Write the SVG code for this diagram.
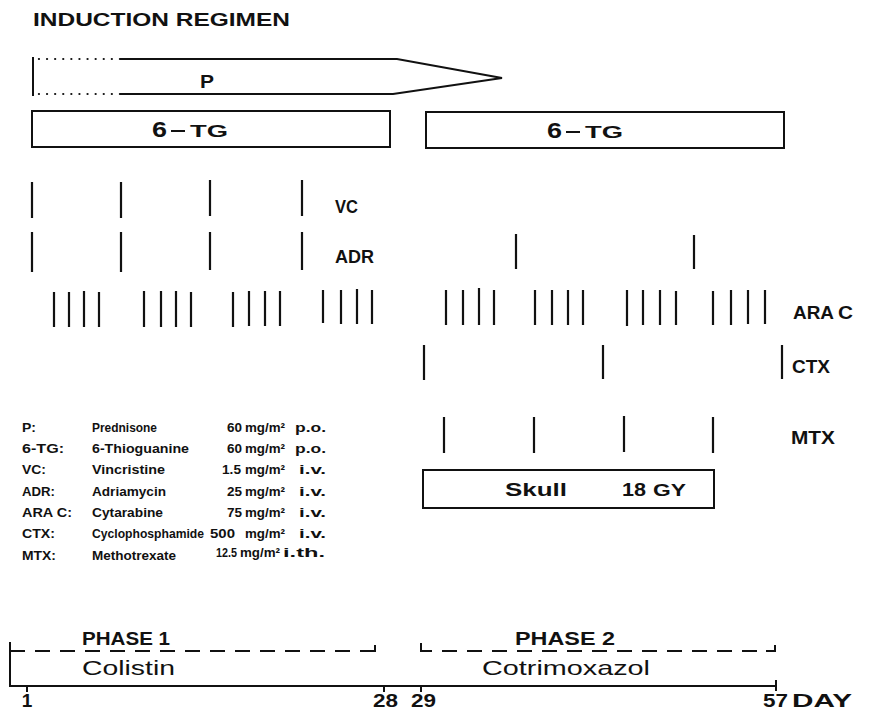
<svg xmlns="http://www.w3.org/2000/svg" width="885" height="711" viewBox="0 0 885 711">
<style>
text{font-family:"Liberation Sans",Arial,sans-serif;fill:#111}
.b{font-weight:bold}
.t{stroke:#111;stroke-width:2.2;fill:none}
.box{stroke:#111;stroke-width:2;fill:#fff}
.ln{stroke:#111;stroke-width:2;fill:none}
.dot{stroke:#111;stroke-width:2.2;fill:none;stroke-dasharray:0.1 8;stroke-linecap:round}
.dash{stroke:#111;stroke-width:2;fill:none;stroke-dasharray:15 10}
.lg{font-size:12.5px;font-weight:bold}
.rl{font-size:18px;font-weight:bold}
.num{font-size:19px;font-weight:bold}
</style>
<rect width="885" height="711" fill="#fff"/>
<text id="title" x="33" y="26" class="b" font-size="18" textLength="257" lengthAdjust="spacingAndGlyphs">INDUCTION REGIMEN</text>

<g id="node-P">
<path class="dot" d="M120 59 H36 M120 94 H36"/>
<path class="ln" d="M33 57 V96"/>
<path class="ln" d="M120 59 H397 L502 78 L393 94 H120"/>
<text x="200" y="88" class="b" font-size="18" textLength="14" lengthAdjust="spacingAndGlyphs">P</text>
</g>

<g id="node-6TG-1">
<rect class="box" x="32" y="111" width="358" height="36"/>
<text x="152" y="137" class="b" font-size="22" textLength="15" lengthAdjust="spacingAndGlyphs">6</text>
<path class="ln" d="M171 131 H185" stroke-width="2.5"/>
<text x="190" y="137" class="b" font-size="17" textLength="38" lengthAdjust="spacingAndGlyphs">TG</text>
</g>
<g id="node-6TG-2">
<rect class="box" x="426" y="112" width="358" height="36"/>
<text x="547" y="138" class="b" font-size="22" textLength="15" lengthAdjust="spacingAndGlyphs">6</text>
<path class="ln" d="M566 132 H580" stroke-width="2.5"/>
<text x="585" y="138" class="b" font-size="17" textLength="38" lengthAdjust="spacingAndGlyphs">TG</text>
</g>

<g id="connectors">
<g id="VC-ticks">
<path class="t" d="M32 182 V218 M121 182 V218 M210 180 V216 M302 180 V216"/>
</g>
<g id="ADR-ticks">
<path class="t" d="M32 232 V272 M121 232 V272 M210 232 V270 M302 232 V270 M516 234 V269 M694 235 V269"/>
</g>
<g id="ARAC-ticks">
<path class="t" d="M54 292 V327 M69 292 V327 M84 291 V327 M99 292 V327 M144 291 V327 M161 291 V327 M176 291 V327 M191 292 V327 M233 292 V327 M249 291 V326 M265 291 V326 M280 291 V326 M323 290 V323 M341 290 V324 M357 289 V324 M372 290 V324 M446 290 V325 M463 290 V325 M479 288 V325 M494 290 V325 M535 290 V325 M552 290 V325 M568 290 V325 M583 290 V325 M627 290 V326 M643 290 V325 M660 290 V325 M676 291 V325 M713 291 V325 M731 290 V325 M748 290 V324 M765 290 V324"/>
</g>
<g id="CTX-ticks">
<path class="t" d="M424 345 V380 M603 345 V379 M782 345 V379"/>
</g>
<g id="MTX-ticks">
<path class="t" d="M444 417 V453 M534 417 V453 M624 416 V452 M713 417 V453"/>
</g>
</g>

<g id="labels">
<text id="VC" x="335" y="213" class="rl" textLength="23" lengthAdjust="spacingAndGlyphs">VC</text>
<text id="ADR" x="335" y="263" class="rl" textLength="39" lengthAdjust="spacingAndGlyphs">ADR</text>
<text id="ARAC" x="793" y="319" class="rl" textLength="41" lengthAdjust="spacingAndGlyphs">ARA</text>
<text x="838" y="319" class="rl" textLength="15" lengthAdjust="spacingAndGlyphs">C</text>
<text id="CTX" x="792" y="373" class="rl" textLength="38" lengthAdjust="spacingAndGlyphs">CTX</text>
<text id="MTX" x="791" y="444" class="rl" textLength="44" lengthAdjust="spacingAndGlyphs">MTX</text>
</g>

<g id="node-skull">
<rect class="box" x="423" y="470" width="291" height="38"/>
<text x="505" y="496" class="b" font-size="19" textLength="62" lengthAdjust="spacingAndGlyphs">Skull</text>
<text x="622" y="496" class="b" font-size="19" textLength="24" lengthAdjust="spacingAndGlyphs">18</text>
<text x="653" y="496" class="b" font-size="16" textLength="33" lengthAdjust="spacingAndGlyphs">GY</text>
</g>

<g id="legend">
<text x="22" y="432" class="lg" textLength="14" lengthAdjust="spacingAndGlyphs">P:</text>
<text x="92" y="432" class="lg" textLength="65" lengthAdjust="spacingAndGlyphs">Prednisone</text>
<text x="227" y="432" class="lg" textLength="15" lengthAdjust="spacingAndGlyphs">60</text>
<text x="245" y="432" class="lg" textLength="40" lengthAdjust="spacingAndGlyphs">mg/m²</text>
<text x="295" y="432" class="lg" font-size="13" textLength="31" lengthAdjust="spacingAndGlyphs">p.o.</text>

<text x="22" y="453" class="lg" textLength="42" lengthAdjust="spacingAndGlyphs">6-TG:</text>
<text x="92" y="453" class="lg" textLength="97" lengthAdjust="spacingAndGlyphs">6-Thioguanine</text>
<text x="227" y="453" class="lg" textLength="15" lengthAdjust="spacingAndGlyphs">60</text>
<text x="245" y="453" class="lg" textLength="40" lengthAdjust="spacingAndGlyphs">mg/m²</text>
<text x="295" y="453" class="lg" font-size="13" textLength="31" lengthAdjust="spacingAndGlyphs">p.o.</text>

<text x="22" y="474" class="lg" textLength="24" lengthAdjust="spacingAndGlyphs">VC:</text>
<text x="92" y="474" class="lg" textLength="73" lengthAdjust="spacingAndGlyphs">Vincristine</text>
<text x="222" y="474" class="lg" textLength="19" lengthAdjust="spacingAndGlyphs">1.5</text>
<text x="245" y="474" class="lg" textLength="40" lengthAdjust="spacingAndGlyphs">mg/m²</text>
<text x="299" y="474" class="lg" font-size="13" textLength="27" lengthAdjust="spacingAndGlyphs">i.v.</text>

<text x="22" y="496" class="lg" textLength="33" lengthAdjust="spacingAndGlyphs">ADR:</text>
<text x="92" y="496" class="lg" textLength="74" lengthAdjust="spacingAndGlyphs">Adriamycin</text>
<text x="227" y="496" class="lg" textLength="15" lengthAdjust="spacingAndGlyphs">25</text>
<text x="245" y="496" class="lg" textLength="40" lengthAdjust="spacingAndGlyphs">mg/m²</text>
<text x="299" y="496" class="lg" font-size="13" textLength="27" lengthAdjust="spacingAndGlyphs">i.v.</text>

<text x="22" y="517" class="lg" textLength="50" lengthAdjust="spacingAndGlyphs">ARA C:</text>
<text x="92" y="517" class="lg" textLength="71" lengthAdjust="spacingAndGlyphs">Cytarabine</text>
<text x="227" y="517" class="lg" textLength="15" lengthAdjust="spacingAndGlyphs">75</text>
<text x="245" y="517" class="lg" textLength="40" lengthAdjust="spacingAndGlyphs">mg/m²</text>
<text x="299" y="517" class="lg" font-size="13" textLength="27" lengthAdjust="spacingAndGlyphs">i.v.</text>

<text x="22" y="538" class="lg" textLength="33" lengthAdjust="spacingAndGlyphs">CTX:</text>
<text x="92" y="538" class="lg" textLength="112" lengthAdjust="spacingAndGlyphs">Cyclophosphamide</text>
<text x="210" y="538" class="lg" textLength="25" lengthAdjust="spacingAndGlyphs">500</text>
<text x="245" y="538" class="lg" textLength="40" lengthAdjust="spacingAndGlyphs">mg/m²</text>
<text x="299" y="538" class="lg" font-size="13" textLength="27" lengthAdjust="spacingAndGlyphs">i.v.</text>

<text x="22" y="560" class="lg" textLength="34" lengthAdjust="spacingAndGlyphs">MTX:</text>
<text x="92" y="560" class="lg" textLength="84" lengthAdjust="spacingAndGlyphs">Methotrexate</text>
<text x="216" y="557" class="lg" font-size="11" textLength="21" lengthAdjust="spacingAndGlyphs">12.5</text>
<text x="240" y="557" class="lg" textLength="40" lengthAdjust="spacingAndGlyphs">mg/m²</text>
<text x="283" y="557" class="lg" font-size="13" textLength="42" lengthAdjust="spacingAndGlyphs">i.th.</text>
</g>

<g id="timeline">
<path class="ln" d="M10 642 V687"/>
<path class="dash" d="M10 651 H368"/>
<path class="ln" d="M366 651 H375 V645"/>
<path class="ln" d="M421 643 V651 H432"/>
<path class="dash" d="M442 651 H768"/>
<path class="ln" d="M766 651 H775 V645"/>
<path class="ln" d="M10 686 H776 V680 M776 686 V691 M27 686 V692 M384 686 V692 M421 686 V692"/>
<text x="82" y="645" class="b" font-size="18" textLength="88" lengthAdjust="spacingAndGlyphs">PHASE 1</text>
<text x="515" y="645" class="b" font-size="18" textLength="100" lengthAdjust="spacingAndGlyphs">PHASE 2</text>
<text x="82" y="675" font-size="21" textLength="93" lengthAdjust="spacingAndGlyphs">Colistin</text>
<text x="482" y="675" font-size="21" textLength="168" lengthAdjust="spacingAndGlyphs">Cotrimoxazol</text>
<text x="27" y="707" class="num" text-anchor="middle">1</text>
<text x="373" y="707" class="num" textLength="25" lengthAdjust="spacingAndGlyphs">28</text>
<text x="411" y="707" class="num" textLength="25" lengthAdjust="spacingAndGlyphs">29</text>
<text x="763" y="707" class="num" textLength="25" lengthAdjust="spacingAndGlyphs">57</text>
<text x="792" y="707" class="num" textLength="60" lengthAdjust="spacingAndGlyphs">DAY</text>
</g>
</svg>
